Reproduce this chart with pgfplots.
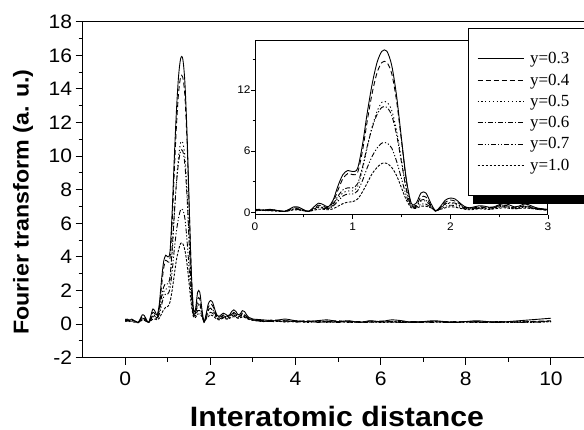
\documentclass[border=0pt]{standalone}
\usepackage{pgfplots}
\pgfplotsset{compat=1.18}
\usepackage{pgfplotstable}
\usepackage{fontspec}
\setmainfont{Liberation Sans}[FakeStretch=1.08]
\newfontfamily\legfont{Liberation Serif}

% Fourier transform curves, one column per y value
\pgfplotstableread{
x     c1    c2    c3    c4    c5    c6
0.00  0.30  0.25  0.20  0.22  0.18  0.15
0.05  0.25  0.30  0.25  0.20  0.22  0.18
0.10  0.22  0.20  0.20  0.25  0.15  0.20
0.15  0.30  0.25  0.20  0.18  0.20  0.15
0.20  0.22  0.20  0.25  0.20  0.18  0.12
0.25  0.15  0.15  0.15  0.15  0.12  0.10
0.30  0.10  0.10  0.10  0.08  0.10  0.08
0.35  0.30  0.25  0.20  0.20  0.18  0.15
0.40  0.55  0.45  0.35  0.35  0.30  0.25
0.45  0.50  0.40  0.35  0.32  0.28  0.22
0.50  0.25  0.20  0.20  0.18  0.15  0.15
0.55  0.10  0.10  0.10  0.10  0.10  0.10
0.60  0.50  0.40  0.30  0.30  0.25  0.20
0.65  0.90  0.70  0.50  0.55  0.45  0.30
0.70  0.75  0.60  0.45  0.48  0.40  0.30
0.75  0.55  0.45  0.35  0.38  0.32  0.25
0.80  1.20  1.00  0.70  0.80  0.60  0.35
0.85  2.60  2.20  1.40  1.60  1.10  0.60
0.90  3.70  3.30  1.90  2.20  1.60  0.85
0.95  4.10  3.80  2.10  2.40  1.80  1.00
1.00  4.00  3.70  2.10  2.40  1.80  1.05
1.05  4.30  3.90  2.50  2.80  2.10  1.30
1.10  6.60  6.00  4.20  4.40  3.10  2.00
1.15  9.80  9.00  6.40  6.50  4.40  2.90
1.20 12.60 11.70  8.40  8.30  5.50  3.80
1.25 14.70 13.70  9.90  9.60  6.30  4.40
1.30 15.80 14.70 10.80 10.30  6.80  4.80
1.35 15.80 14.70 10.80 10.30  6.80  4.80
1.40 14.40 13.60 10.00  9.50  6.30  4.40
1.45 11.40 10.90  8.00  7.60  5.00  3.60
1.50  7.20  7.00  5.10  4.90  3.30  2.40
1.55  3.20  3.10  2.30  2.20  1.60  1.20
1.60  0.90  0.80  0.60  0.60  0.50  0.45
1.65  0.90  0.70  0.60  0.60  0.50  0.40
1.70  1.90  1.50  1.10  1.20  0.80  0.60
1.75  1.90  1.50  1.10  1.20  0.80  0.60
1.80  0.90  0.70  0.60  0.60  0.50  0.45
1.85  0.15  0.10  0.15  0.12  0.15  0.20
1.90  0.60  0.50  0.40  0.45  0.35  0.30
1.95  1.20  1.00  0.80  0.85  0.60  0.45
2.00  1.40  1.20  0.90  0.95  0.70  0.55
2.05  1.30  1.10  0.85  0.90  0.65  0.50
2.10  0.90  0.80  0.60  0.65  0.50  0.40
2.15  0.55  0.50  0.40  0.45  0.35  0.30
2.20  0.45  0.40  0.35  0.35  0.30  0.25
2.25  0.55  0.45  0.40  0.42  0.35  0.30
2.30  0.65  0.55  0.45  0.50  0.40  0.35
2.35  0.60  0.50  0.40  0.45  0.38  0.32
2.40  0.50  0.45  0.35  0.40  0.32  0.28
2.45  0.55  0.50  0.45  0.45  0.40  0.35
2.50  0.75  0.65  0.55  0.60  0.50  0.40
2.55  0.85  0.70  0.60  0.65  0.55  0.45
2.60  0.75  0.60  0.50  0.55  0.45  0.40
2.65  0.55  0.45  0.40  0.42  0.35  0.35
2.70  0.60  0.50  0.45  0.48  0.40  0.38
2.75  0.80  0.65  0.55  0.60  0.50  0.42
2.80  0.75  0.60  0.50  0.55  0.45  0.40
2.85  0.55  0.45  0.40  0.42  0.38  0.35
2.90  0.40  0.35  0.30  0.32  0.30  0.28
2.95  0.35  0.30  0.30  0.28  0.28  0.25
3.00  0.30  0.25  0.25  0.25  0.22  0.22
3.25  0.25  0.20  0.15  0.18  0.20  0.15
3.50  0.20  0.25  0.20  0.15  0.15  0.20
3.75  0.30  0.20  0.15  0.20  0.18  0.12
4.00  0.20  0.15  0.20  0.15  0.12  0.18
4.25  0.15  0.20  0.12  0.18  0.15  0.10
4.50  0.20  0.12  0.15  0.10  0.18  0.15
4.75  0.25  0.18  0.10  0.15  0.12  0.12
5.00  0.15  0.20  0.15  0.12  0.10  0.15
5.25  0.20  0.12  0.18  0.15  0.15  0.10
5.50  0.10  0.15  0.12  0.10  0.12  0.12
5.75  0.20  0.10  0.15  0.18  0.10  0.15
6.00  0.15  0.18  0.10  0.12  0.15  0.10
6.25  0.25  0.15  0.12  0.15  0.12  0.12
6.50  0.20  0.10  0.15  0.10  0.10  0.15
6.75  0.10  0.15  0.10  0.12  0.15  0.10
7.00  0.15  0.12  0.15  0.10  0.12  0.12
7.25  0.20  0.15  0.12  0.15  0.10  0.15
7.50  0.15  0.10  0.15  0.12  0.15  0.10
7.75  0.10  0.15  0.10  0.10  0.12  0.12
8.00  0.15  0.12  0.12  0.15  0.10  0.15
8.25  0.20  0.15  0.15  0.12  0.12  0.10
8.50  0.15  0.10  0.12  0.10  0.15  0.12
8.75  0.10  0.12  0.10  0.15  0.10  0.15
9.00  0.15  0.15  0.15  0.12  0.12  0.10
9.25  0.20  0.12  0.12  0.10  0.15  0.12
9.50  0.25  0.15  0.10  0.12  0.10  0.15
9.75  0.30  0.18  0.15  0.15  0.12  0.12
10.00 0.35  0.20  0.15  0.18  0.15  0.15
}\ftdata

\tikzset{
  s1/.style={black, line width=0.9pt, solid},
  s2/.style={black, line width=0.9pt, dash pattern=on 5pt off 3pt},
  s3/.style={black, line width=0.9pt, dash pattern=on 1.2pt off 2.6pt},
  s4/.style={black, line width=0.9pt, dash pattern=on 5pt off 2pt on 1.2pt off 2pt},
  s5/.style={black, line width=0.9pt, dash pattern=on 5pt off 2pt on 1.2pt off 2pt on 1.2pt off 2pt},
  s6/.style={black, line width=0.9pt, dash pattern=on 2.5pt off 1.5pt},
}

\begin{document}
\begin{tikzpicture}
\begin{axis}[
    name=main, at={(0pt,0pt)}, anchor=south west,
    scale only axis, width=501.5pt, height=336pt,
    xmin=-1, xmax=10.78, ymin=-2, ymax=18,
    axis x line*=box, axis y line*=left,
    axis line style={-, line width=1.1pt},
    xtick={0,2,...,10}, minor xtick={1,3,...,9},
    ytick={-2,0,...,18}, minor ytick={-1,1,...,17},
    tick align=outside, xtick pos=bottom, ytick pos=left,
    major tick length=7pt, minor tick length=4pt,
    every tick/.style={black, line width=1pt},
    tick label style={font=\fontsize{19.5}{19.5}\selectfont},
    xticklabel style={yshift=-4pt},
    /pgf/number format/assume math mode=true,
    xlabel={Interatomic distance},
    ylabel={Fourier transform (a. u.)},
    xlabel style={font=\fontsize{28}{28}\selectfont\bfseries,
        at={(axis description cs:0.507,-0.206)}, anchor=base},
    ylabel style={font=\fontsize{21.5}{21.5}\selectfont\bfseries,
        at={(axis description cs:-0.119,0.463)}, anchor=center},
]
\addplot[s1, smooth] table[x=x, y=c1] {\ftdata};
\addplot[s2, smooth] table[x=x, y=c2] {\ftdata};
\addplot[s3, smooth] table[x=x, y=c3] {\ftdata};
\addplot[s4, smooth] table[x=x, y=c4] {\ftdata};
\addplot[s5, smooth] table[x=x, y=c5] {\ftdata};
\addplot[s6, smooth] table[x=x, y=c6] {\ftdata};
\end{axis}

% shadow behind the inset legend
\fill[black] (390.5pt,153.7pt) rectangle (650pt,320pt);

% inset: zoom on 0-3
\begin{axis}[
    at={(172.3pt,142.7pt)}, anchor=south west,
    scale only axis, width=293pt, height=174pt,
    xmin=0, xmax=3, ymin=-0.26, ymax=16.8,
    xtick={0,1,2,3}, minor xtick={0.5,1.5,2.5},
    ytick={0,6,12}, minor ytick={3,9,15},
    tick align=outside, xtick pos=bottom, ytick pos=left,
    major tick length=4pt, minor tick length=2.5pt,
    every tick/.style={black, line width=0.8pt},
    axis line style={line width=1pt},
    tick label style={font=\fontsize{11}{11}\selectfont},
    yticklabel style={xshift=3pt},
    /pgf/number format/assume math mode=true,
    legend image code/.code={\draw[#1] (0pt,0pt) -- (46pt,0pt);},
    legend style={at={(0.726,1.075)}, anchor=north west,
        draw=black, line width=1pt, fill=white,
        font=\legfont\fontsize{17}{17}\selectfont,
        inner xsep=9pt, inner ysep=23pt, row sep=6.5pt, column sep=5pt,
        nodes={inner sep=1pt},
        cells={anchor=west}},
]
\addplot[s1, smooth] table[x=x, y=c1] {\ftdata};
\addplot[s2, smooth] table[x=x, y=c2] {\ftdata};
\addplot[s3, smooth] table[x=x, y=c3] {\ftdata};
\addplot[s4, smooth] table[x=x, y=c4] {\ftdata};
\addplot[s5, smooth] table[x=x, y=c5] {\ftdata};
\addplot[s6, smooth] table[x=x, y=c6] {\ftdata};
\legend{y=0.3\hspace*{16pt}, y=0.4\hspace*{16pt}, y=0.5\hspace*{16pt},
        y=0.6\hspace*{16pt}, y=0.7\hspace*{16pt}, y=1.0\hspace*{16pt}}
\end{axis}

\pgfresetboundingbox
\path[use as bounding box] (-82.7pt,-72.3pt) rectangle (501.3pt,357.7pt);
\end{tikzpicture}
\end{document}
